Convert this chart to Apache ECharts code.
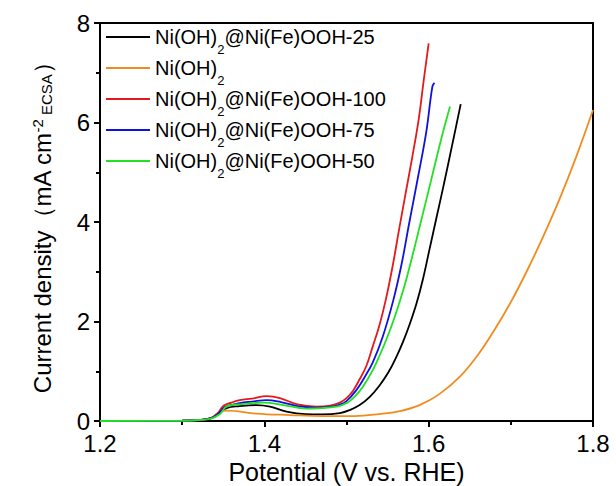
<!DOCTYPE html>
<html>
<head>
<meta charset="utf-8">
<script src="https://cdn.jsdelivr.net/npm/echarts@6/dist/echarts.min.js"></script>
<style>
  html, body { margin: 0; padding: 0; background: #fff; }
  #chart { width: 616px; height: 486px; }
</style>
</head>
<body>
<div id="chart"></div>
<script>
// LSV curves, potential (V vs. RHE) vs current density (mA cm-2 ECSA)
var names = ['Ni(OH)2@Ni(Fe)OOH-25', 'Ni(OH)2', 'Ni(OH)2@Ni(Fe)OOH-100', 'Ni(OH)2@Ni(Fe)OOH-75', 'Ni(OH)2@Ni(Fe)OOH-50']
var colors = ['#000000', '#f08c1e', '#e31a1c', '#1010e0', '#22e022']

var ni25 = [[1.20, 0], [1.30, 0.005], [1.32, 0.02], [1.335, 0.05], [1.345, 0.15], [1.354, 0.26], [1.37, 0.30],
  [1.39, 0.32], [1.407, 0.29], [1.427, 0.19], [1.45, 0.14], [1.47, 0.135], [1.492, 0.16], [1.504, 0.22],
  [1.516, 0.32], [1.528, 0.48], [1.540, 0.71], [1.551, 0.98], [1.561, 1.30], [1.569, 1.60], [1.577, 1.95],
  [1.585, 2.35], [1.593, 2.85], [1.601, 3.45], [1.609, 4.05], [1.618, 4.72], [1.628, 5.50], [1.639, 6.37]]
var niOH = [[1.20, 0], [1.30, 0.005], [1.32, 0.02], [1.335, 0.06], [1.346, 0.19], [1.354, 0.21], [1.39, 0.15],
  [1.431, 0.12], [1.471, 0.10], [1.51, 0.10], [1.540, 0.14], [1.565, 0.20], [1.589, 0.32], [1.613, 0.54],
  [1.638, 0.89], [1.660, 1.33], [1.680, 1.83], [1.700, 2.39], [1.720, 3.03], [1.740, 3.73], [1.760, 4.49],
  [1.780, 5.33], [1.800, 6.25]]
var ni100 = [[1.20, 0], [1.30, 0.005], [1.32, 0.02], [1.335, 0.06], [1.343, 0.15], [1.350, 0.30], [1.36, 0.37],
  [1.37, 0.42], [1.385, 0.45], [1.403, 0.50], [1.419, 0.46], [1.439, 0.34], [1.463, 0.29], [1.480, 0.31],
  [1.492, 0.37], [1.500, 0.46], [1.508, 0.61], [1.516, 0.84], [1.524, 1.10], [1.532, 1.50], [1.540, 1.92],
  [1.548, 2.45], [1.556, 3.10], [1.564, 3.85], [1.572, 4.58], [1.580, 5.30], [1.588, 6.08], [1.594, 6.85],
  [1.600, 7.59]]
var ni75 = [[1.20, 0], [1.30, 0.005], [1.32, 0.02], [1.335, 0.06], [1.344, 0.15], [1.352, 0.28], [1.37, 0.36],
  [1.385, 0.39], [1.403, 0.42], [1.42, 0.38], [1.44, 0.30], [1.463, 0.27], [1.482, 0.29], [1.492, 0.33],
  [1.500, 0.40], [1.512, 0.62], [1.522, 0.88], [1.532, 1.18], [1.544, 1.69], [1.557, 2.43], [1.567, 3.15],
  [1.576, 3.95], [1.587, 4.90], [1.597, 5.80], [1.6045, 6.72], [1.607, 6.80]]
var ni50 = [[1.20, 0], [1.30, 0.005], [1.32, 0.02], [1.335, 0.05], [1.346, 0.14], [1.354, 0.29], [1.374, 0.34],
  [1.399, 0.37], [1.423, 0.32], [1.451, 0.25], [1.47, 0.26], [1.488, 0.29], [1.496, 0.33], [1.504, 0.40],
  [1.516, 0.60], [1.526, 0.85], [1.536, 1.16], [1.553, 1.83], [1.569, 2.63], [1.581, 3.37], [1.590, 3.97],
  [1.603, 4.84], [1.615, 5.65], [1.626, 6.32]]

var seriesData = [ni25, niOH, ni100, ni75, ni50]
var xTicks = [1.2, 1.4, 1.6, 1.8]
var yTicks = [0, 2, 4, 6, 8]

var font = 'Liberation Sans'

function axisBase(ticks, step) {
  return {
    type: 'value',
    min: ticks[0],
    max: ticks[ticks.length - 1],
    interval: step,
    axisLine: { show: true, onZero: false, lineStyle: { color: '#000', width: 2 } },
    axisTick: { show: true, length: 6, lineStyle: { color: '#000', width: 2 } },
    minorTick: { show: true, splitNumber: 2, length: 4, lineStyle: { color: '#000', width: 2 } },
    splitLine: { show: false },
    axisLabel: { fontSize: 24, fontFamily: font, color: '#000', margin: 10 }
  }
}

var xAxis = axisBase(xTicks, 0.2)
xAxis.name = 'Potential (V vs. RHE)'
xAxis.nameLocation = 'middle'
xAxis.nameGap = 36
xAxis.nameTextStyle = { fontFamily: font, fontSize: 25, color: '#000' }

var yAxis = axisBase(yTicks, 2)
yAxis.name = '{n|Current density（mA cm}{sup|-2}{sub| ECSA}{n|）}'
yAxis.nameLocation = 'middle'
yAxis.nameGap = 46
yAxis.nameTextStyle = {
  rich: {
    n: { fontFamily: font, fontSize: 24, color: '#000' },
    sup: { fontFamily: font, fontSize: 15, verticalAlign: 'top', color: '#000' },
    sub: { fontFamily: font, fontSize: 15, verticalAlign: 'bottom', color: '#000' }
  }
}

// svg renderer for the frame and ticks
var chart = echarts.init(document.getElementById('chart'), null, { renderer: 'svg' })
chart.setOption({
  animation: false,
  color: colors,
  grid: { left: 100, right: 23, top: 23, bottom: 65, outerBoundsMode: 'none', show: true, borderColor: '#000', borderWidth: 2 },
  legend: {
    data: names,
    orient: 'vertical',
    left: 101,
    top: 21,
    icon: 'rect',
    itemWidth: 44,
    itemHeight: 2,
    itemGap: 1,
    textStyle: {
      fontFamily: font, fontSize: 20, color: '#000', lineHeight: 22,
      rich: { s: { fontFamily: font, fontSize: 13, verticalAlign: 'bottom', lineHeight: 12, padding: [0, 0, -8, 0] } }
    },
    formatter: function (name) {
      return name.replace('(OH)2', '(OH){s|2}')
    }
  },
  xAxis: xAxis,
  yAxis: yAxis,
  series: names.map(function (n, i) {
    return { name: n, type: 'line', data: seriesData[i], symbol: 'none', smooth: 0.4, lineStyle: { width: 1.8 } }
  })
})
</script>
</body>
</html>
